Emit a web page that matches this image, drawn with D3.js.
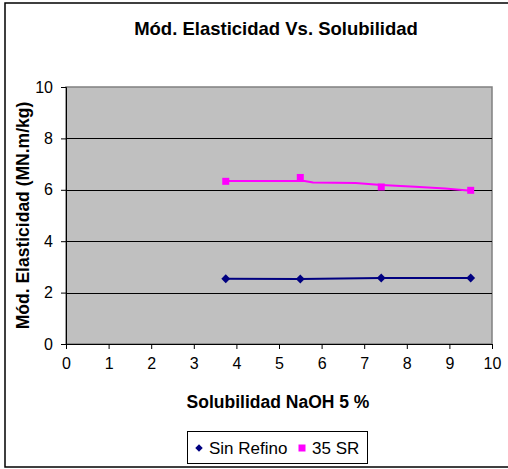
<!DOCTYPE html>
<html>
<head>
<meta charset="utf-8">
<script src="https://cdn.jsdelivr.net/npm/d3@7"></script>
<style>
  html, body { margin: 0; padding: 0; background: #fff; }
  svg { display: block; font-family: "Liberation Sans", Arial, sans-serif; }
</style>
</head>
<body>
<script>
// Solubilidad NaOH 5 % (x) for each sample
const solubilidad = [3.75, 5.5, 7.4, 9.5];
// Módulo de elasticidad, sin refino
const sinRefino = [2.54, 2.53, 2.57, 2.57];
// Módulo de elasticidad, 35 SR
const sr35 = [6.33, 6.48, 6.11, 5.98];
// Line drawn for the 35 SR series (x, y)
const sr35LineX = [3.75, 5.6, 5.8, 6.8, 7.4, 8.2, 8.9, 9.5];
const sr35LineY = [6.34, 6.34, 6.28, 6.26, 6.19, 6.12, 6.05, 5.96];
const xTicks = [0, 1, 2, 3, 4, 5, 6, 7, 8, 9, 10];
const yTicks = [0, 2, 4, 6, 8, 10];
const seriesNames = ["Sin Refino", "35 SR"];

const W = 508, H = 469;
const plot = { left: 66, right: 492, top: 87, bottom: 344 };

const svg = d3.select("body").append("svg").attr("width", W).attr("height", H);

// chart frame
svg.append("rect").attr("x", 5).attr("y", 3).attr("width", W + 10).attr("height", 464)
  .attr("fill", "#fff").attr("stroke", "#000").attr("stroke-width", 1.5);

const x = d3.scaleLinear().domain([0, 10]).range([plot.left, plot.right]);
const y = d3.scaleLinear().domain([0, 10]).range([plot.bottom, plot.top]);

// plot area
svg.append("rect").attr("x", plot.left).attr("y", plot.top)
  .attr("width", plot.right - plot.left).attr("height", plot.bottom - plot.top)
  .attr("fill", "#c0c0c0").attr("stroke", "#808080").attr("stroke-width", 1.5);

// horizontal gridlines
svg.append("g").selectAll("line").data(yTicks.filter(d => d > 0 && d < 10)).join("line")
  .attr("x1", plot.left).attr("x2", plot.right)
  .attr("y1", d => Math.round(y(d)) + 0.5).attr("y2", d => Math.round(y(d)) + 0.5)
  .attr("stroke", "#000").attr("stroke-width", 1);

// axes
const xAxis = d3.axisBottom(x).tickValues(xTicks).tickSize(5).tickPadding(9).tickFormat(d3.format("d"));
const gx = svg.append("g").attr("transform", `translate(0,${plot.bottom})`).call(xAxis);
const yAxis = d3.axisLeft(y).tickValues(yTicks).tickSize(5).tickPadding(8).tickFormat(d3.format("d"));
const gy = svg.append("g").attr("transform", `translate(${plot.left},0)`).call(yAxis);
[gx, gy].forEach(g => {
  g.select(".domain").attr("stroke", "#000").attr("stroke-width", 1);
  g.selectAll(".tick line").attr("stroke", "#000");
  g.selectAll(".tick text").attr("font-size", 16).attr("fill", "#000")
    .attr("font-family", "'Liberation Sans', Arial, sans-serif");
});

// series
const blue = "#000080", pink = "#ff00ff";
const lineGen = d3.line().x(d => x(d[0])).y(d => y(d[1]));

svg.append("path").datum(solubilidad.map((v, i) => [v, sinRefino[i]]))
  .attr("d", lineGen).attr("fill", "none").attr("stroke", blue).attr("stroke-width", 2);
svg.append("path").datum(sr35LineX.map((v, i) => [v, sr35LineY[i]]))
  .attr("d", lineGen).attr("fill", "none").attr("stroke", pink).attr("stroke-width", 2);

const diamond = d3.symbol().type(d3.symbolDiamond2).size(50);
svg.append("g").selectAll("path").data(solubilidad.map((v, i) => [v, sinRefino[i]])).join("path")
  .attr("transform", d => `translate(${x(d[0])},${y(d[1])})`)
  .attr("d", diamond).attr("fill", blue);
svg.append("g").selectAll("rect").data(solubilidad.map((v, i) => [v, sr35[i]])).join("rect")
  .attr("x", d => x(d[0]) - 3.5).attr("y", d => y(d[1]) - 3.5)
  .attr("width", 7).attr("height", 7).attr("fill", pink);

// titles
svg.append("text").attr("x", 276).attr("y", 35).attr("text-anchor", "middle")
  .attr("font-size", 18.5).attr("font-weight", "bold").text("Mód. Elasticidad Vs. Solubilidad");
svg.append("text").attr("x", 278).attr("y", 408).attr("text-anchor", "middle")
  .attr("font-size", 17.5).attr("font-weight", "bold").text("Solubilidad NaOH 5 %");
svg.append("text").attr("transform", `translate(29,${(plot.top + plot.bottom) / 2}) rotate(-90)`)
  .attr("text-anchor", "middle").attr("font-size", 17.5).attr("font-weight", "bold")
  .text("Mód. Elasticidad (MN.m/kg)");

// legend
const lg = svg.append("g");
lg.append("rect").attr("x", 187.5).attr("y", 431.5).attr("width", 180).attr("height", 32)
  .attr("fill", "#fff").attr("stroke", "#000").attr("stroke-width", 1);
lg.append("path").attr("transform", "translate(199,448)").attr("d", d3.symbol().type(d3.symbolDiamond2).size(36)).attr("fill", blue);
lg.append("text").attr("x", 209).attr("y", 454).attr("font-size", 17).text(seriesNames[0]);
lg.append("rect").attr("x", 298.5).attr("y", 444.5).attr("width", 7).attr("height", 7).attr("fill", pink);
lg.append("text").attr("x", 312).attr("y", 454).attr("font-size", 17).text(seriesNames[1]);
</script>
</body>
</html>
